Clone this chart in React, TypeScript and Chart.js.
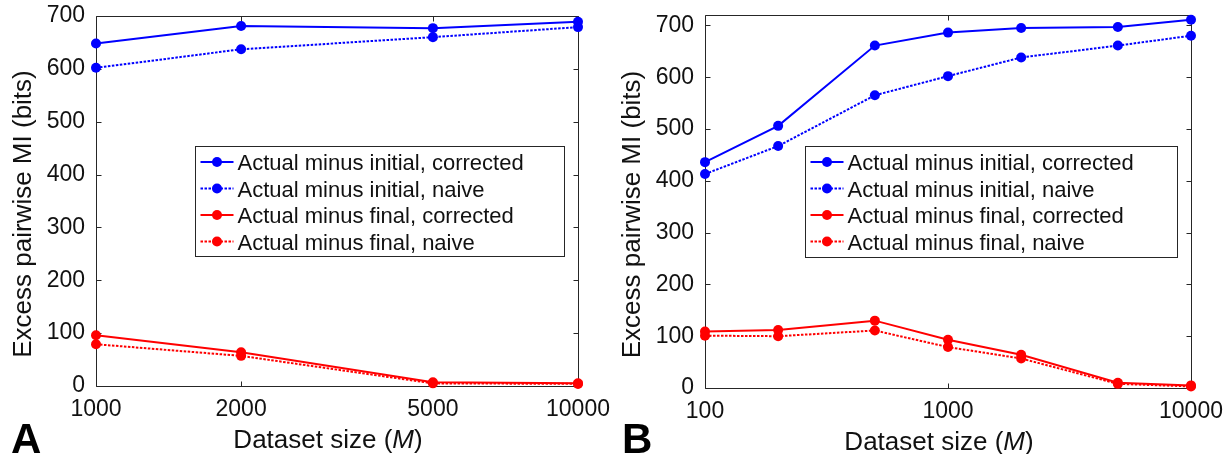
import React, { useEffect, useRef } from 'react';
import { Chart, registerables } from 'chart.js';

Chart.register(...registerables);

const FONT = '"Liberation Sans", Arial, Helvetica, sans-serif';
const BLUE = '#0000ff';
const RED = '#ff0000';
const AXIS = '#262626';
const TEXT = '#111111';

const seriesNames = [
  'Actual minus initial, corrected',
  'Actual minus initial, naive',
  'Actual minus final, corrected',
  'Actual minus final, naive',
];

// Panel A
const xA = [1000, 2000, 5000, 10000];
const aInitCorr = [648, 681, 677, 689];
const aInitNaive = [602, 637, 660, 679];
const aFinalCorr = [96, 64, 7, 5];
const aFinalNaive = [79, 57, 5, 4];
const xTicksA = [1000, 2000, 5000, 10000];
const yTicksA = [0, 100, 200, 300, 400, 500, 600, 700];

// Panel B
const xB = [100, 200, 500, 1000, 2000, 5000, 10000];
const bInitCorr = [436, 506, 661, 686, 695, 697, 711];
const bInitNaive = [413, 467, 565, 602, 638, 661, 680];
const bFinalCorr = [109, 112, 130, 93, 64, 10, 5];
const bFinalNaive = [101, 100, 111, 79, 57, 8, 3];
const xTicksB = [100, 1000, 10000];
const yTicksB = [0, 100, 200, 300, 400, 500, 600, 700];

const yTitle = 'Excess pairwise MI (bits)';
const xTitleParts = ['Dataset size (', 'M', ')'];

const DOT = [2.5, 1.5];
const styles = [
  { color: BLUE, dash: [] as number[] },
  { color: BLUE, dash: DOT },
  { color: RED, dash: [] as number[] },
  { color: RED, dash: DOT },
];

function makeDatasets(xs: number[], series: number[][]) {
  return series.map((ys, i) => ({
    label: seriesNames[i],
    data: xs.map((x, j) => ({ x, y: ys[j] })),
    borderColor: styles[i].color,
    backgroundColor: styles[i].color,
    borderWidth: 2,
    borderDash: styles[i].dash,
    pointRadius: 5,
    pointHoverRadius: 5,
    pointBorderWidth: 0,
    pointBackgroundColor: styles[i].color,
    tension: 0,
    clip: false as any,
  }));
}

const panelPlugin = {
  id: 'panel',
  beforeDatasetsDraw(chart: any) {
    const { ctx, chartArea: ca, scales } = chart;
    ctx.save();
    ctx.strokeStyle = AXIS;
    ctx.lineWidth = 1;
    ctx.beginPath();
    const L = Math.round(ca.left) + 0.5;
    const R = Math.round(ca.right) + 0.5;
    const T = Math.round(ca.top) + 0.5;
    const B = Math.round(ca.bottom) + 0.5;
    ctx.rect(L, T, R - L, B - T);
    const tl = 5;
    scales.y.ticks.forEach((t: any) => {
      const y = Math.round(scales.y.getPixelForValue(t.value)) + 0.5;
      ctx.moveTo(L, y);
      ctx.lineTo(L + tl, y);
      ctx.moveTo(R, y);
      ctx.lineTo(R - tl, y);
    });
    scales.x.ticks.forEach((t: any) => {
      const x = Math.round(scales.x.getPixelForValue(t.value)) + 0.5;
      ctx.moveTo(x, B);
      ctx.lineTo(x, B - tl);
      ctx.moveTo(x, T);
      ctx.lineTo(x, T + tl);
    });
    ctx.stroke();
    ctx.restore();
  },
  afterDatasetsDraw(chart: any, _args: any, opts: any) {
    const { ctx, chartArea: ca } = chart;
    const left = Math.round(ca.left + opts.legendDx) + 0.5;
    const top = opts.legendTop + 0.5;
    const w = opts.legendW;
    const h = opts.legendH;
    ctx.save();
    ctx.fillStyle = '#ffffff';
    ctx.fillRect(left, top, w, h);
    ctx.strokeStyle = AXIS;
    ctx.lineWidth = 1;
    ctx.strokeRect(left, top, w, h);
    chart.data.datasets.forEach((ds: any, i: number) => {
      const cy = top + 15.5 + i * 26.5;
      ctx.strokeStyle = ds.borderColor;
      ctx.lineWidth = 2;
      ctx.setLineDash(ds.borderDash || []);
      ctx.beginPath();
      ctx.moveTo(left + 5, cy);
      ctx.lineTo(left + 38, cy);
      ctx.stroke();
      ctx.setLineDash([]);
      ctx.fillStyle = ds.borderColor;
      ctx.beginPath();
      ctx.arc(left + 21.5, cy, 5, 0, Math.PI * 2);
      ctx.fill();
      ctx.fillStyle = TEXT;
      ctx.font = `22px ${FONT}`;
      ctx.textAlign = 'left';
      ctx.textBaseline = 'alphabetic';
      ctx.fillText(ds.label, left + 42, cy + 8);
    });
    ctx.restore();
  },
  afterDraw(chart: any, _args: any, opts: any) {
    const { ctx, chartArea: ca } = chart;
    ctx.save();
    ctx.fillStyle = TEXT;
    ctx.font = `26px ${FONT}`;
    ctx.translate(ca.left - 65, (ca.top + ca.bottom) / 2 + 13);
    ctx.rotate(-Math.PI / 2);
    ctx.textAlign = 'center';
    ctx.textBaseline = 'alphabetic';
    ctx.fillText(yTitle, 0, 0);
    ctx.restore();

    ctx.save();
    ctx.fillStyle = TEXT;
    ctx.textBaseline = 'alphabetic';
    ctx.textAlign = 'left';
    const fonts = [`26px ${FONT}`, `italic 26px ${FONT}`, `26px ${FONT}`];
    let total = 0;
    const widths = xTitleParts.map((p, i) => {
      ctx.font = fonts[i];
      const wd = ctx.measureText(p).width;
      total += wd;
      return wd;
    });
    let x = (ca.left + ca.right) / 2 - 9 - total / 2;
    const y = ca.bottom + 62;
    xTitleParts.forEach((p, i) => {
      ctx.font = fonts[i];
      ctx.fillText(p, x, y);
      x += widths[i];
    });
    ctx.font = `bold 42px ${FONT}`;
    ctx.fillStyle = '#000000';
    ctx.fillText(opts.letter, opts.letterX, 453);
    ctx.restore();
  },
};

type PanelProps = {
  xs: number[];
  series: number[][];
  xTicks: number[];
  yTicks: number[];
  xMin: number;
  xMax: number;
  yMax: number;
  width: number;
  left: number;
  areaLeft: number;
  areaRight: number;
  areaTop: number;
  areaBottom: number;
  letter: string;
  letterX: number;
  legendDx: number;
  legendTop: number;
  legendW: number;
  legendH: number;
};

function Panel(p: PanelProps) {
  const ref = useRef<HTMLCanvasElement | null>(null);
  useEffect(() => {
    if (!ref.current) return;
    const H = 454;
    const chart = new Chart(ref.current, {
      type: 'line',
      data: { datasets: makeDatasets(p.xs, p.series) as any },
      plugins: [panelPlugin as any],
      options: {
        responsive: false,
        animation: false,
        devicePixelRatio: 1,
        layout: {
          padding: { left: 0, top: p.areaTop, right: p.width - p.areaRight, bottom: 0 },
        },
        plugins: {
          legend: { display: false },
          tooltip: { enabled: false },
          panel: {
            letter: p.letter,
            letterX: p.letterX,
            legendDx: p.legendDx,
            legendTop: p.legendTop,
            legendW: p.legendW,
            legendH: p.legendH,
          },
        } as any,
        scales: {
          x: {
            type: 'logarithmic',
            min: p.xMin,
            max: p.xMax,
            grid: { display: false, drawTicks: false },
            border: { display: false },
            ticks: {
              font: { family: FONT, size: 23 },
              color: TEXT,
              padding: 10,
              maxRotation: 0,
              autoSkip: false,
              callback: (v: any) => String(v),
            },
            afterBuildTicks: (s: any) => {
              s.ticks = p.xTicks.map((v) => ({ value: v }));
            },
            afterFit: (s: any) => {
              s.height = H - p.areaBottom;
              s.paddingLeft = 0;
              s.paddingRight = 0;
              s.paddingTop = 0;
              s.paddingBottom = 0;
            },
          },
          y: {
            type: 'linear',
            min: 0,
            max: p.yMax,
            grid: { display: false, drawTicks: false },
            border: { display: false },
            ticks: {
              font: { family: FONT, size: 23 },
              color: TEXT,
              padding: 11,
              autoSkip: false,
              callback: (v: any) => String(v),
            },
            afterBuildTicks: (s: any) => {
              s.ticks = p.yTicks.map((v) => ({ value: v }));
            },
            afterFit: (s: any) => {
              s.width = p.areaLeft;
              s.paddingLeft = 0;
              s.paddingRight = 0;
              s.paddingTop = 0;
              s.paddingBottom = 0;
            },
          },
        },
      } as any,
    });
    return () => chart.destroy();
  }, []);
  return (
    <canvas
      ref={ref}
      width={p.width}
      height={454}
      style={{ position: 'absolute', left: p.left, top: 0, width: p.width, height: 454 }}
    />
  );
}

export default function App() {
  return (
    <div style={{ position: 'absolute', left: 0, top: 0, width: 1224, height: 454, background: '#fff', overflow: 'hidden' }}>
      <Panel
        xs={xA}
        series={[aInitCorr, aInitNaive, aFinalCorr, aFinalNaive]}
        xTicks={xTicksA}
        yTicks={yTicksA}
        xMin={1000}
        xMax={10000}
        yMax={700}
        width={610}
        left={0}
        areaLeft={96}
        areaRight={578}
        areaTop={16}
        areaBottom={386}
        letter="A"
        letterX={11}
        legendDx={99}
        legendTop={146}
        legendW={369}
        legendH={110}
      />
      <Panel
        xs={xB}
        series={[bInitCorr, bInitNaive, bFinalCorr, bFinalNaive]}
        xTicks={xTicksB}
        yTicks={yTicksB}
        xMin={100}
        xMax={10000}
        yMax={720}
        width={614}
        left={610}
        areaLeft={95}
        areaRight={581}
        areaTop={15}
        areaBottom={388}
        letter="B"
        letterX={12}
        legendDx={100}
        legendTop={146}
        legendW={372}
        legendH={111}
      />
    </div>
  );
}
